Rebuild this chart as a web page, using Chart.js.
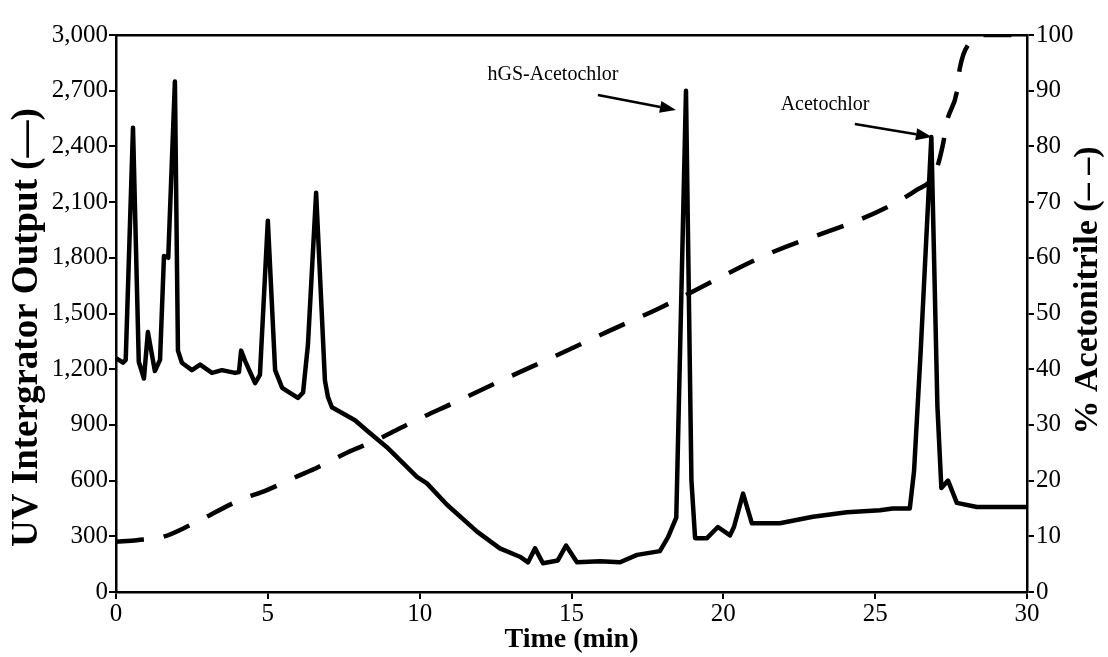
<!DOCTYPE html>
<html>
<head>
<meta charset="utf-8">
<script src="https://cdn.jsdelivr.net/npm/chart.js@4/dist/chart.umd.min.js"></script>
<style>
  html, body { margin: 0; padding: 0; background: #fff; }
  #wrap { width: 1108px; height: 657px; position: relative; }
</style>
</head>
<body>
<div id="wrap"><canvas id="chrom"></canvas></div>
<script>
// UV trace (time in min, integrator output)
const uvTime = [0, 0.23, 0.32, 0.56, 0.75, 0.92, 1.05, 1.28, 1.45, 1.58, 1.72, 1.94, 2.04, 2.17, 2.5, 2.77,
  3.16, 3.49, 3.92, 4.05, 4.12, 4.25, 4.58, 4.74, 5.0, 5.24, 5.47, 5.99, 6.16, 6.32, 6.59, 6.88, 6.98, 7.11,
  7.87, 8.26, 8.92, 9.91, 10.24, 10.9, 11.89, 12.64, 13.3, 13.57, 13.8, 14.06, 14.55, 14.82, 15.18, 15.94,
  16.6, 17.16, 17.91, 18.18, 18.45, 18.77, 18.95, 19.07, 19.46, 19.82, 20.22, 20.35, 20.65, 20.94, 21.86,
  22.95, 24.07, 25.16, 25.58, 26.14, 26.28, 26.5, 26.85, 27.05, 27.18, 27.4, 27.69, 28.35, 30];
const uvValue = [1260, 1235, 1250, 2500, 1240, 1150, 1400, 1190, 1250, 1810, 1800, 2750, 1300, 1235, 1195, 1225,
  1180, 1195, 1180, 1185, 1300, 1245, 1125, 1170, 2000, 1195, 1100, 1045, 1075, 1330, 2150, 1140, 1050, 995,
  925, 870, 780, 620, 585, 470, 325, 235, 190, 160, 235, 155, 170, 250, 160, 165,
  160, 200, 220, 295, 400, 2700, 600, 290, 290, 350, 305, 350, 530, 370, 370,
  405, 430, 440, 450, 450, 650, 1300, 2450, 1000, 560, 600, 480, 458, 458];

// acetonitrile gradient (%)
const gradTime = [0, 0.69, 1.55, 2.44, 4.08, 4.97, 5.9, 6.65, 7.64, 8.43, 9.35, 10.1, 11.1, 12.74, 14.52,
  16.17, 17.91, 21.2, 26.37, 26.97, 27.23, 27.36, 27.69, 27.79, 28.12, 28.6, 30];
const gradPct = [9, 9.3, 9.9, 12, 16.5, 18.3, 20.6, 22.4, 25.1, 26.9, 29.4, 31.4, 33.9, 38.1, 42.5,
  46.7, 51, 60, 72.2, 75.2, 80.3, 84.4, 89.8, 94.1, 98.7, 100, 100];

const timeTicks = [0, 5, 10, 15, 20, 25, 30];
const uvTicks = [0, 300, 600, 900, 1200, 1500, 1800, 2100, 2400, 2700, 3000];
const pctTicks = [0, 10, 20, 30, 40, 50, 60, 70, 80, 90, 100];

const peakLabels = ['hGS-Acetochlor', 'Acetochlor'];
const leftTitle = 'UV Intergrator Output (\u2014)';
const rightTitle = '% Acetonitrile (\u2013 \u2013)';

const serif = '"Liberation Serif", "DejaVu Serif", serif';
Chart.defaults.color = '#000';
Chart.defaults.font.family = serif;

const useTicks = arr => scale => { scale.ticks = arr.map(v => ({ value: v })); };

const axisLine = { color: '#000', width: 2.5 };
const tickMarks = { display: true, drawOnChartArea: false, color: '#000', lineWidth: 2, tickLength: 7 };

// labels + arrows for the two marked peaks, placed in data coordinates
const peakNotes = {
  id: 'peakNotes',
  afterDatasetsDraw(chart) {
    const ctx = chart.ctx;
    const x = chart.scales.x, y = chart.scales.y;
    const notes = [
      { text: peakLabels[0], at: [14.39, 2785], from: [15.87, 2677], to: [18.44, 2596] },
      { text: peakLabels[1], at: [23.35, 2623], from: [24.33, 2521], to: [26.87, 2451] }
    ];
    ctx.save();
    ctx.fillStyle = '#000';
    ctx.strokeStyle = '#000';
    ctx.font = '20px ' + serif;
    ctx.textAlign = 'center';
    ctx.textBaseline = 'middle';
    notes.forEach(n => {
      ctx.fillText(n.text, x.getPixelForValue(n.at[0]), y.getPixelForValue(n.at[1]));
      const x1 = x.getPixelForValue(n.from[0]), y1 = y.getPixelForValue(n.from[1]);
      const x2 = x.getPixelForValue(n.to[0]), y2 = y.getPixelForValue(n.to[1]);
      const a = Math.atan2(y2 - y1, x2 - x1);
      const hl = 16, hw = 6;
      ctx.lineWidth = 2.5;
      ctx.beginPath();
      ctx.moveTo(x1, y1);
      ctx.lineTo(x2 - hl * Math.cos(a), y2 - hl * Math.sin(a));
      ctx.stroke();
      ctx.beginPath();
      ctx.moveTo(x2, y2);
      ctx.lineTo(x2 - hl * Math.cos(a) + hw * Math.sin(a), y2 - hl * Math.sin(a) - hw * Math.cos(a));
      ctx.lineTo(x2 - hl * Math.cos(a) - hw * Math.sin(a), y2 - hl * Math.sin(a) + hw * Math.cos(a));
      ctx.closePath();
      ctx.fill();
    });
    ctx.restore();
  }
};

// both y titles read bottom-to-top, as in the original figure
const yTitles = {
  id: 'yTitles',
  afterDraw(chart) {
    const ctx = chart.ctx;
    const area = chart.chartArea;
    const mid = (area.top + area.bottom) / 2;
    ctx.save();
    ctx.fillStyle = '#000';
    ctx.textAlign = 'center';
    ctx.textBaseline = 'alphabetic';
    [[leftTitle, area.left - 79, mid + 14, 37], [rightTitle, area.right + 70, mid - 23, 34]].forEach(t => {
      ctx.save();
      ctx.translate(t[1], t[2]);
      ctx.rotate(-Math.PI / 2);
      ctx.font = 'bold ' + t[3] + 'px ' + serif;
      ctx.fillText(t[0], 0, 0);
      ctx.restore();
    });
    ctx.restore();
  }
};

new Chart(document.getElementById('chrom'), {
  type: 'line',
  data: {
    datasets: [
      {
        label: 'UV',
        data: uvTime.map((t, i) => ({ x: t, y: uvValue[i] })),
        yAxisID: 'y',
        borderColor: '#000',
        borderWidth: 4.5,
        pointRadius: 0,
        tension: 0,
        borderJoinStyle: 'round'
      },
      {
        label: '% Acetonitrile',
        data: gradTime.map((t, i) => ({ x: t, y: gradPct[i] })),
        yAxisID: 'y2',
        borderColor: '#000',
        borderWidth: 4.5,
        borderDash: [28, 20],
        pointRadius: 0,
        cubicInterpolationMode: 'monotone'
      }
    ]
  },
  options: {
    responsive: true,
    maintainAspectRatio: false,
    devicePixelRatio: 1,
    animation: false,
    layout: { padding: { top: 35, left: 0, right: 0, bottom: 0 } },
    plugins: { legend: { display: false }, tooltip: { enabled: false } },
    scales: {
      x: {
        type: 'linear', position: 'bottom', min: 0, max: 30,
        afterBuildTicks: useTicks(timeTicks),
        afterFit: s => { s.height = 65; },
        ticks: { font: { size: 25 }, padding: 0, maxRotation: 0 },
        grid: tickMarks,
        border: axisLine,
        title: { display: true, text: 'Time (min)', font: { size: 28, weight: 'bold' }, padding: { top: 0, bottom: 0 } }
      },
      x2: {
        type: 'linear', position: 'top', min: 0, max: 30,
        afterFit: s => { s.height = 0; },
        ticks: { display: false },
        grid: { display: false },
        border: axisLine
      },
      y: {
        type: 'linear', position: 'left', min: 0, max: 3000,
        afterBuildTicks: useTicks(uvTicks),
        afterFit: s => { s.width = 116; },
        ticks: { font: { size: 25 }, padding: 1, callback: v => v.toLocaleString('en-US') },
        grid: tickMarks,
        border: axisLine
      },
      y2: {
        type: 'linear', position: 'right', min: 0, max: 100,
        afterBuildTicks: useTicks(pctTicks),
        afterFit: s => { s.width = 81; },
        ticks: { font: { size: 25 }, padding: 2 },
        grid: tickMarks,
        border: axisLine
      }
    }
  },
  plugins: [peakNotes, yTitles]
});
</script>
</body>
</html>
